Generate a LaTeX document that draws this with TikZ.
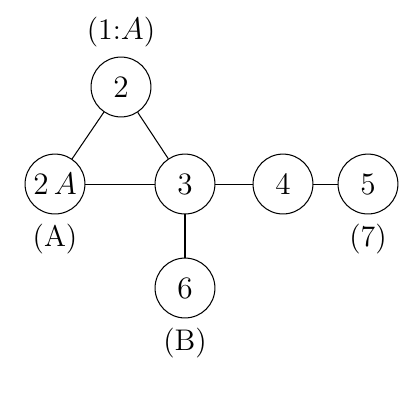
\documentclass[tikz,border=0pt]{standalone}
\begin{document}
\begin{tikzpicture}[font=\fontsize{11.5}{14}\selectfont,
  vertex/.style={draw, circle, minimum size=0.81cm, inner sep=0pt}]
\useasboundingbox (0,0) rectangle (5.48,-5.48);

\node[vertex, label=above:{(1:$A$)}] (n2) at (1.637,-1.177) {$2$};
\node[vertex, label=below:{(A)}] (n2A) at (0.744,-2.490) {$2\,A$};
\node[vertex] (n3) at (2.503,-2.490) {$3$};
\node[vertex] (n4) at (3.829,-2.490) {$4$};
\node[vertex, label=below:{(7)}] (n5) at (4.979,-2.490) {$5$};
\node[vertex, label=below:{(B)}] (n6) at (2.503,-3.897) {$6$};

\draw (n2) -- (n2A);
\draw (n2) -- (n3);
\draw (n2A) -- (n3);
\draw (n3) -- (n4);
\draw (n4) -- (n5);
\draw (n3) -- (n6);
\end{tikzpicture}
\end{document}
